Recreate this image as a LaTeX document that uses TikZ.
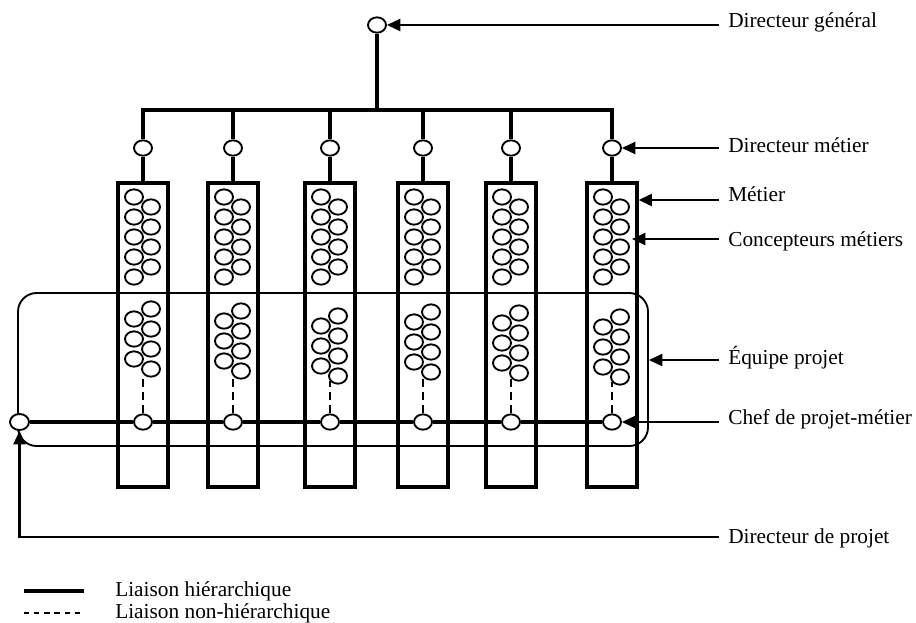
\documentclass[tikz,border=0pt]{standalone}
\usepackage{fontspec}
\setmainfont{Liberation Serif}
\usetikzlibrary{arrows.meta, shapes.geometric, calc}

\begin{document}
\begin{tikzpicture}[
  x=0.75pt, y=-0.75pt,
  font=\fontsize{16}{19}\selectfont,
  >={Triangle[length=10pt, width=9pt]},
  pers/.style={ellipse, draw, line width=1.4pt, fill=white, inner sep=0pt,
               minimum width=13.5pt, minimum height=11.5pt},
  metier/.style={rectangle, draw, line width=2.4pt, inner sep=0pt,
                 minimum width=37.5pt, minimum height=228pt},
  hier/.style={line width=2.3pt},
  nonhier/.style={line width=1.5pt, dash pattern=on 6pt off 4pt},
  arr/.style={->, line width=1.6pt},
  lbl/.style={anchor=base west, inner xsep=6.75pt, inner ysep=0pt},
]
\useasboundingbox (0,0) rectangle (916,622);
% equipe projet
\node[draw, rounded corners=14pt, line width=1.4pt,
      minimum width=472.5pt, minimum height=114.75pt] (team) at (333,369.5) {};
% directeur general
\node[pers] (dg) at (377,25) {};
\coordinate (bus) at (0,110);
\draw[hier] (dg) -- (dg |- bus);
% metiers
\foreach \c/\y [count=\i] in {143/309, 233/311, 330/316, 423/312, 511/313, 612/317} {
  \node[pers] (dm\i) at (\c,148) {};
  \node[metier] (box\i) at (\c,335) {};
  \node[pers] (chef\i) at (\c,422) {};
  \draw[hier] (dm\i) -- (box\i);
  \foreach \k in {0,...,4} \node[pers] (t\i-l\k) at (\c-9,197+20*\k) {};
  \foreach \k in {0,...,3} \node[pers] (t\i-r\k) at (\c+8,207+20*\k) {};
  \foreach \k in {0,...,3} \node[pers] (b\i-r\k) at (\c+8,\y+20*\k) {};
  \foreach \k in {0,...,2} \node[pers] (b\i-l\k) at (\c-9,\y+10+20*\k) {};
  \draw[nonhier] (chef\i) -- ([yshift=3pt]chef\i |- b\i-r3.south);
}
\draw[hier] (dm1) |- (bus -| dm6) -- (dm6);
\foreach \i in {2,...,5} \draw[hier] (dm\i |- bus) -- (dm\i);
% directeur de projet
\node[pers, minimum width=14.25pt, minimum height=12pt] (dp) at (19.5,422) {};
\draw[hier] (dp) -- (chef1) -- (chef2) -- (chef3) -- (chef4) -- (chef5) -- (chef6);
% legendes
\node[lbl] (lDG) at (719,27) {Directeur général};
\node[lbl] (lDM) at (719,152) {Directeur métier};
\node[lbl] (lM) at (719,201) {Métier};
\node[lbl] (lCM) at (719,246) {Concepteurs métiers};
\node[lbl] (lEP) at (719,364) {Équipe projet};
\node[lbl] (lCP) at (719,424) {Chef de projet-métier};
\node[lbl] (lDP) at (719,543) {Directeur de projet};
\coordinate (mt) at (box6.east |- 0,200);
\coordinate (cm) at (632,239);
\coordinate (ep) at (team.east |- 0,360);
\draw[arr] (lDG.west |- dg) -- (dg);
\draw[arr] (lDM.west |- dm6) -- (dm6);
\draw[arr] (lM.west |- mt) -- (mt);
\draw[arr] (lCM.west |- cm) -- (cm);
\draw[arr] (lEP.west |- ep) -- (ep);
\draw[arr] (lCP.west |- chef6) -- (chef6);
\draw[arr] (lDP.west |- 0,537) -| (dp);
% liaisons
\coordinate (h1) at (24,591);
\coordinate (h2) at (84,591);
\coordinate (n1) at (24,613);
\coordinate (n2) at (84,613);
\draw[hier] (h1) -- (h2);
\draw[nonhier, dash pattern=on 4pt off 3.6pt] (n1) -- (n2);
\node[lbl] (lH) at (106,596) {Liaison hiérarchique};
\node[lbl] (lNH) at (106,618) {Liaison non-hiérarchique};
\end{tikzpicture}
\end{document}
